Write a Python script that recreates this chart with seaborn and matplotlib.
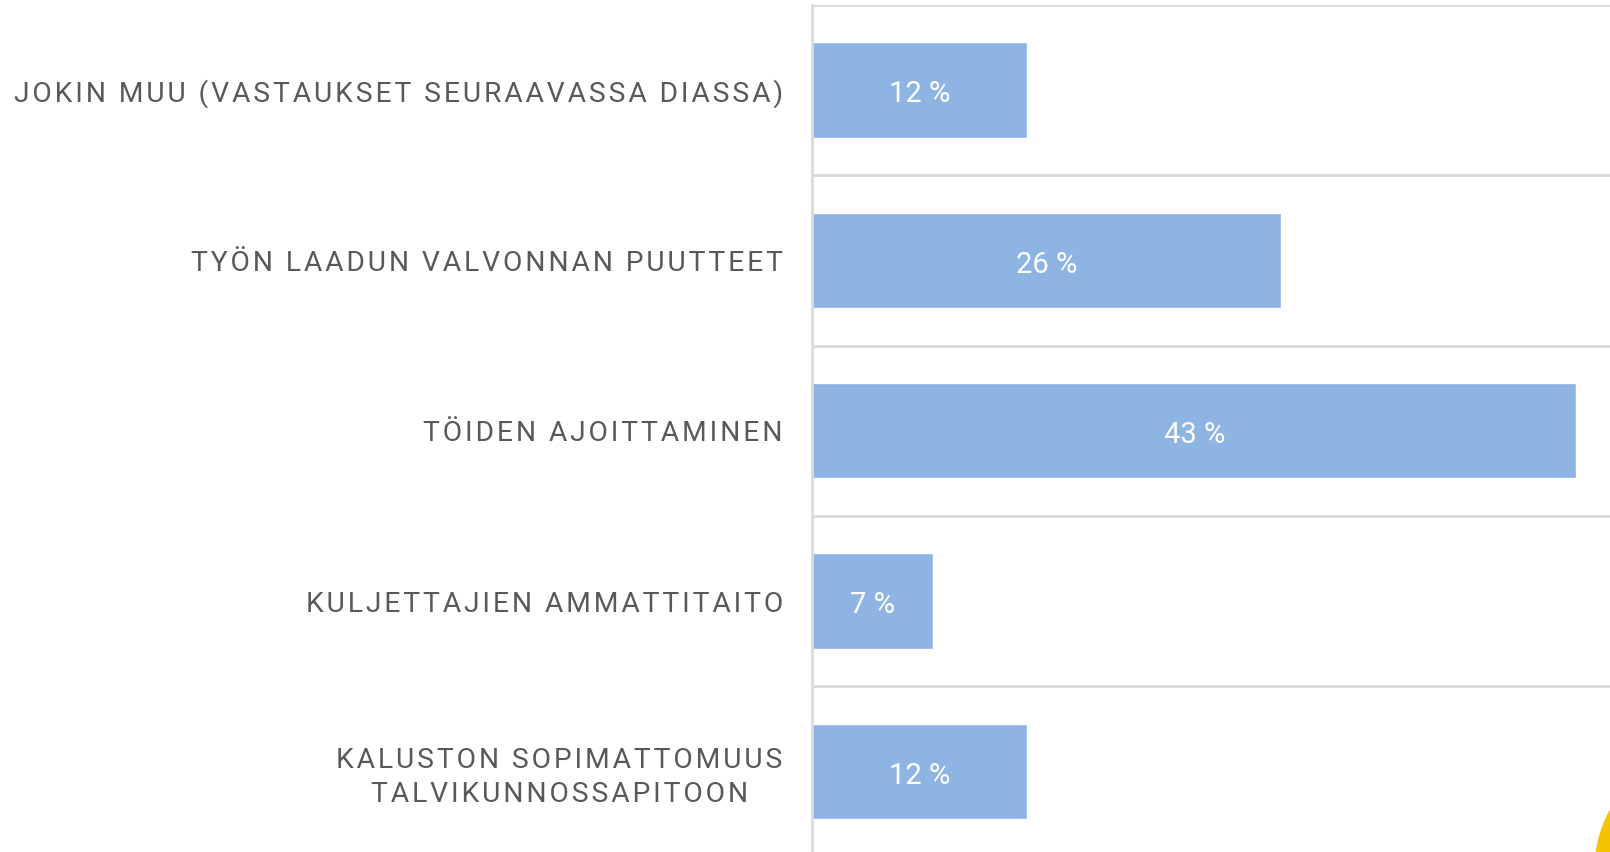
import numpy as np
import pandas as pd
import seaborn as sns
import matplotlib.pyplot as plt
from matplotlib.patches import Circle

# Data
categories = [
    "JOKIN MUU (VASTAUKSET SEURAAVASSA DIASSA)",
    "TYÖN LAADUN VALVONNAN PUUTTEET",
    "TÖIDEN AJOITTAMINEN",
    "KULJETTAJIEN AMMATTITAITO",
    "KALUSTON SOPIMATTOMUUS\nTALVIKUNNOSSAPITOON",
]
values = [12.1, 26.4, 43.0, 6.8, 12.1]
value_labels = ["12 %", "26 %", "43 %", "7 %", "12 %"]

bar_color = "#8EB4E3"
grid_color = "#D9D9D9"
text_color = "#595959"

sns.set_theme(style="white")
plt.rcParams["font.family"] = ["Roboto", "DejaVu Sans"]


def spaced(s):
    # fake letter spacing with hair spaces
    return "\n".join("\u200a".join(line) for line in s.split("\n"))


df = pd.DataFrame({"category": [spaced(c) for c in categories], "value": values})

fig = plt.figure(figsize=(16.1, 8.52), dpi=100)
ax = fig.add_axes([812 / 1610, -4.5 / 852, 800 / 1610, 851.5 / 852])

sns.barplot(data=df, x="value", y="category", orient="h", color=bar_color,
            width=0.56, saturation=1, ax=ax)

ax.set_xlim(0, 45)
ax.set_ylim(len(categories) - 0.5, -0.5)
ax.set_xlabel("")
ax.set_ylabel("")
ax.set_xticks([])

# band separators
ax.set_yticks(np.arange(len(categories) + 1) - 0.5, minor=True)
ax.grid(which="minor", axis="y", color=grid_color, linewidth=2)
ax.tick_params(axis="y", which="both", length=0, pad=21)

for side in ["top", "right", "bottom"]:
    ax.spines[side].set_visible(False)
ax.spines["left"].set_color(grid_color)
ax.spines["left"].set_linewidth(2)

for lbl in ax.get_yticklabels():
    lbl.set_fontsize(20.3)
    lbl.set_color(text_color)
    lbl.set_multialignment("center")
    lbl.set_linespacing(1.3)

anns = ax.bar_label(ax.containers[0], labels=value_labels, label_type="center",
                    color="white", fontsize=21)
for a in anns:
    a.xyann = (0, -3)  # sit a little lower, like the original

# yellow decoration in the corner (inches, so it stays round)
fig.patches.append(Circle((17.2, -0.18), 1.25, transform=fig.dpi_scale_trans,
                          color="#F5C400", clip_on=False))

fig.savefig("out.png", dpi=100)
